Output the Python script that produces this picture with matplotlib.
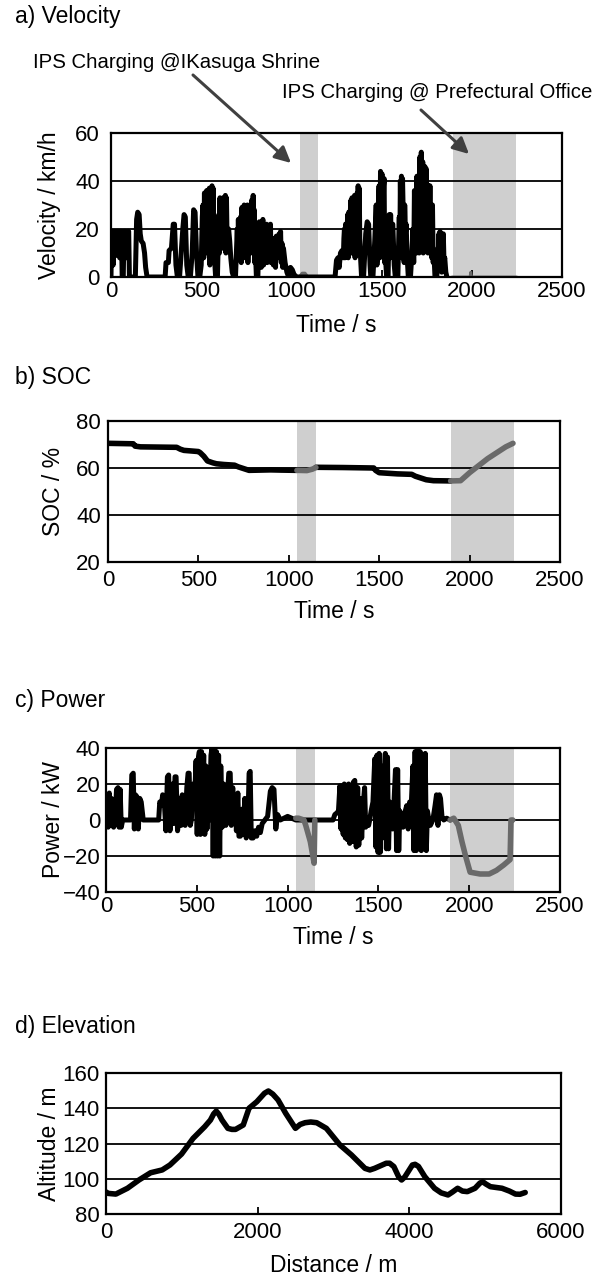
import matplotlib
matplotlib.use('Agg')
import matplotlib.pyplot as plt

plt.rcParams['font.family'] = ['Liberation Sans', 'DejaVu Sans']

# ---------------- data ----------------
# a) Velocity (driving, black)
vel_t = [0, 3, 8, 12, 16, 22, 26, 30, 34, 40, 48, 52, 58, 62, 68, 72, 80, 86, 92, 98, 102,
         135, 142, 148, 156, 162, 168, 178, 186, 192, 200,
         300, 305, 318, 322, 335, 345, 352, 360, 368, 380,
         398, 405, 412, 420, 428, 440, 450, 458, 466, 474, 482, 492,
         500, 506, 510, 514, 518, 521, 524, 527, 530, 534, 538, 541, 545, 548, 552, 556,
         560, 563, 566, 569, 572, 580, 590,
         598, 601, 604, 607, 610, 613, 616, 619, 622, 625, 628, 631, 634, 637, 640, 643,
         646, 652, 658, 664, 672, 680, 690,
         700, 703, 706, 709, 712, 715, 718, 722, 726, 729, 732, 735, 738, 741, 744, 747,
         750, 753, 756, 759, 762, 766, 770, 775, 780, 784, 788, 791, 794, 797, 800, 806, 814,
         822, 826, 830, 833, 836, 839, 842, 846, 850, 853, 856, 859, 862, 866, 870, 874,
         878, 881, 884, 887, 890, 895, 900, 904, 908, 912, 916, 920, 924, 928, 932, 936, 940,
         944, 948, 952, 956, 965, 975, 985, 995, 1005, 1015, 1030, 1045,
         1150, 1242, 1250, 1258, 1265, 1272, 1280, 1288, 1291, 1294, 1297, 1300, 1303, 1306,
         1309, 1312, 1315, 1318, 1321, 1324, 1327, 1330, 1333, 1336, 1339, 1342, 1346, 1350,
         1353, 1356, 1360, 1364, 1367, 1370, 1373, 1376, 1379, 1382, 1389, 1400,
         1412, 1420, 1428, 1436, 1440, 1452, 1462, 1466, 1470, 1474, 1478, 1482, 1486, 1490,
         1494, 1498, 1502, 1505, 1508, 1511, 1514, 1517, 1520, 1528, 1536, 1542, 1546, 1550,
         1553, 1556, 1559, 1562, 1570, 1576, 1590, 1598, 1601, 1604, 1607, 1610, 1613, 1616,
         1619, 1622, 1625, 1628, 1632, 1636, 1642, 1648, 1660, 1668, 1674, 1678, 1682, 1686,
         1690, 1693, 1696, 1700, 1704, 1708, 1712, 1716, 1720, 1724, 1728, 1731, 1734, 1737,
         1740, 1744, 1748, 1751, 1754, 1757, 1760, 1764, 1768, 1772, 1775, 1778, 1782, 1786,
         1790, 1796, 1806, 1812, 1815, 1818, 1821, 1824, 1827, 1830, 1833, 1836, 1839, 1842,
         1846, 1850, 1856, 1862]
vel_v = [0, 19, 19, 5, 19, 19, 9, 9, 19, 19, 8, 19, 19, 0, 0, 19, 19, 8, 19, 19, 0,
         0, 24, 27, 26, 18, 15, 14, 10, 4, 0,
         0, 6, 6, 11, 12, 22, 22, 5, 0, 0,
         20, 26, 25, 5, 0, 0, 10, 28, 27, 10, 0, 0,
         5, 25, 30, 8, 35, 12, 15, 30, 36, 10, 20, 35, 37, 5, 18, 34,
         38, 8, 37, 20, 10, 0, 0,
         26, 10, 33, 18, 14, 30, 32, 12, 33, 20, 15, 32, 34, 10, 33, 18,
         12, 20, 15, 8, 2, 0, 0,
         20, 8, 24, 12, 10, 22, 25, 6, 29, 14, 12, 28, 30, 10, 8, 22,
         25, 10, 30, 6, 18, 22, 22, 10, 32, 14, 34, 20, 28, 6, 12, 0, 0,
         23, 10, 20, 4, 6, 22, 24, 5, 22, 12, 8, 20, 22, 6, 20, 12,
         10, 20, 22, 6, 15, 8, 5, 16, 14, 4, 17, 10, 8, 16, 18, 8, 19,
         6, 14, 4, 12, 6, 2, 0, 4, 3, 1, 0, 0,
         0, 0, 7, 8, 4, 10, 11, 8, 16, 20, 8, 22, 14, 10,
         20, 26, 8, 27, 16, 12, 28, 32, 10, 33, 18, 14, 30, 34,
         8, 20, 30, 35, 12, 38, 20, 37, 16, 10, 0, 0,
         18, 23, 22, 5, 0, 0, 15, 22, 30, 5, 10, 30, 38, 8,
         44, 20, 43, 10, 20, 38, 41, 6, 10, 0, 0, 26, 8, 26,
         15, 15, 22, 22, 5, 0, 0, 25, 10, 40, 20, 42, 8, 41,
         30, 18, 6, 30, 18, 22, 8, 0, 0, 10, 20, 6, 36, 14,
         30, 10, 42, 18, 35, 10, 50, 20, 52, 30, 48, 10, 30, 20,
         46, 25, 45, 15, 32, 10, 38, 14, 38, 10, 25, 8, 30, 6,
         10, 0, 0, 12, 4, 18, 6, 19, 14, 8, 2, 17, 6, 18,
         6, 8, 2, 0]
# velocity during IPS charging (grey)
velc1_t = [1045, 1060, 1075, 1090, 1150]
velc1_v = [0, 1.5, 1.5, 0, 0]
velc2_t = [1895, 1990, 1994, 1998, 2245]
velc2_v = [0, 0, 2, 0, 0]

# b) SOC
soc1_t = [0, 140, 150, 180, 380, 400, 420, 500, 510, 530, 550, 580, 600, 640, 700, 720,
          760, 780, 900, 960, 1045]
soc1_v = [70.5, 70.3, 69.3, 69.0, 68.8, 68.0, 67.5, 67.0, 66.5, 65.0, 63.0, 62.2, 61.8,
          61.5, 61.2, 60.5, 59.5, 59.0, 59.2, 59.1, 59.0]
socc1_t = [1045, 1100, 1130, 1150]
socc1_v = [59.0, 58.9, 59.5, 60.2]
soc2_t = [1150, 1300, 1470, 1480, 1500, 1540, 1600, 1680, 1700, 1740, 1760, 1800, 1895]
soc2_v = [60.3, 60.2, 60.0, 59.0, 58.0, 57.8, 57.5, 57.3, 56.5, 55.5, 55.0, 54.6, 54.5]
socc2_t = [1895, 1950, 2000, 2100, 2200, 2240]
socc2_v = [54.5, 54.6, 58.0, 64.0, 69.0, 70.5]

# c) Power
pow_t = [0, 6, 12, 18, 24, 30, 36, 42, 50, 58, 66, 72, 78, 84, 92, 135, 142, 150, 156,
         162, 170, 178, 186, 194, 205, 290, 296, 305, 312, 320, 330, 338, 345, 352, 358,
         366, 372, 380, 386, 394, 400, 408, 414, 420, 428, 436, 445, 452, 458, 464, 470,
         480, 488, 496, 502, 508, 514, 520, 526, 532, 538, 544, 550, 556, 562, 570, 578,
         584, 590, 596, 602, 608, 614, 620, 626, 632, 640, 648, 654, 660, 668, 676, 684,
         690, 698, 704, 712, 718, 726, 732, 740, 748, 756, 764, 772, 780, 788, 794, 800,
         810, 820, 830, 840, 850, 860, 875, 890, 905, 915, 925, 935, 945, 960, 980, 1000,
         1045,
         1150, 1250, 1260, 1272, 1280, 1288, 1294, 1300, 1306, 1312, 1318, 1324, 1330, 1336,
         1342, 1348, 1356, 1362, 1370, 1378, 1386, 1392, 1400, 1408, 1416, 1424, 1430, 1438,
         1446, 1452, 1460, 1470, 1480, 1486, 1492, 1498, 1504, 1510, 1516, 1522, 1530, 1538,
         1544, 1550, 1556, 1562, 1570, 1578, 1586, 1594, 1600, 1606, 1612, 1618, 1626, 1636,
         1648, 1656, 1664, 1672, 1680, 1690, 1696, 1702, 1708, 1716, 1722, 1730, 1736, 1744,
         1750, 1758, 1764, 1770, 1778, 1786, 1800, 1812, 1820, 1828, 1836, 1842, 1850, 1860,
         1876, 1895]
pow_v = [5, 14, -4, 15, -3, 12, 0, -4, 0, 17, 18, -4, 17, -4, 0, 0, 25, 26, -5,
         14, 13, -5, 12, 10, 0, 0, 10, 8, 14, 12, -6, 24, 25, -6, 0,
         20, -2, 24, 24, -6, 0, 12, -3, 14, 0, -3, 18, 26, 26, -3, 0,
         20, 12, 33, -8, 34, 38, -8, 38, 10, 36, -8, 30, -5, 20, 0, 36,
         40, -20, 40, -20, 38, -20, 36, -20, 30, -4, 20, 18, -3, 12, 26, 26,
         -3, 18, -2, 12, -6, 15, -9, -9, 6, -8, 12, -10, -7, 26, 27, -10,
         -10, -6, -9, -4, -7, -2, 0, 2, 16, 18, 17, -5, 3, 0, 1, 2,
         0,
         0, 0, 3, 4, 5, 19, -5, 19, -8, 20, -10, 19, -11, 20,
         -13, 16, -12, 21, 22, -15, 18, -14, 12, -10, 8, 18, -4, 0,
         -3, 0, 5, 10, 34, -15, 36, -18, 37, -18, 30, -10, 20, 37,
         -16, 35, -16, 10, 0, -5, 10, 28, -17, 28, -17, 5, 0, -4,
         5, 8, -5, 10, 6, 30, -17, 38, -17, 39, -16, 38, -17, 36,
         -16, 37, -17, 5, 0, -3, 0, 8, 14, -3, 14, 12, 2, 0,
         1, 0]
# power during IPS charging (grey)
powc1_t = [1045, 1060, 1090, 1100, 1125, 1146, 1150]
powc1_v = [1, 1, 0, -3, -12, -24, 0]
powc2_t = [1895, 1915, 1940, 1960, 1980, 2005, 2060, 2110, 2150, 2190, 2225, 2230, 2240]
powc2_v = [0, 1, -3, -12, -20, -29, -30, -30, -28, -25, -22, 0, 0]

# d) Elevation
elev_d = [0, 26, 130, 283, 435, 588, 741, 843, 996, 1148, 1301, 1377, 1420, 1454, 1490,
          1530, 1607, 1660, 1708, 1810, 1850, 1886, 1989, 2090, 2141, 2200, 2269, 2370,
          2498, 2560, 2625, 2700, 2778, 2906, 3084, 3237, 3415, 3480, 3542, 3695, 3740,
          3796, 3860, 3898, 3940, 4040, 4076, 4120, 4204, 4332, 4420, 4510, 4570, 4637,
          4700, 4765, 4866, 4930, 4968, 5010, 5069, 5222, 5320, 5400, 5460, 5528]
elev_h = [92.5, 91.7, 91.3, 94.6, 99.3, 103.4, 105.0, 107.8, 114.0, 122.9, 129.5, 133.3,
          136.8, 138.4, 136.5, 133.3, 128.6, 128.0, 128.0, 130.5, 135.5, 140.0, 143.7,
          148.5, 149.8, 148.0, 144.7, 137.1, 128.6, 130.8, 131.8, 132.2, 131.8, 128.6,
          119.2, 113.5, 105.9, 105.0, 105.9, 108.8, 108.8, 106.9, 101.0, 99.3, 101.0,
          107.8, 108.2, 107.0, 101.2, 94.6, 92.0, 90.8, 92.5, 94.6, 93.0, 92.7, 94.6,
          97.5, 98.3, 97.0, 95.5, 94.6, 93.0, 91.3, 91.2, 92.2]

# charging windows (s)
band1 = (1045, 1150)
band2 = (1895, 2245)

time_ticks = [0, 500, 1000, 1500, 2000, 2500]
dist_ticks = [0, 2000, 4000, 6000]

# ---------------- figure ----------------
W, H = 606, 1276
fig = plt.figure(figsize=(W / 100, H / 100), dpi=100)

FS_TICK = 16
FS_LAB = 16.5
BAND = '#cfcfcf'
GREY = '#6a6a6a'


def make_axes(l, t, r, b):
    return fig.add_axes([l / W, 1 - b / H, (r - l) / W, (b - t) / H])


def style(ax, ylim, yticks, xlim, xticks, xlabel, ylabel, ypad, xpad, xlab_y, ylab_x,
          bands=True):
    ax.set_xlim(*xlim)
    ax.set_ylim(*ylim)
    ax.set_xticks(xticks)
    ax.set_yticks(yticks)
    ax.tick_params(axis='x', direction='in', length=5, width=1.3, labelsize=FS_TICK,
                   pad=xpad, top=False)
    ax.tick_params(axis='y', length=0, labelsize=FS_TICK, pad=ypad)
    for s in ax.spines.values():
        s.set_linewidth(1.6)
        s.set_color('black')
    ax.yaxis.grid(True, color='black', linewidth=1.3, zorder=0.6)
    ax.set_axisbelow(True)
    ax.set_xlabel(xlabel, fontsize=FS_LAB, va='center')
    ax.set_ylabel(ylabel, fontsize=FS_LAB, va='center', ha='center')
    ax.xaxis.set_label_coords(0.5, xlab_y)
    ax.yaxis.set_label_coords(ylab_x, 0.5)
    if bands:
        for b in (band1, band2):
            ax.axvspan(b[0], b[1], color=BAND, lw=0, zorder=0.2)


lw_main = 4.0
kw = dict(zorder=3, solid_joinstyle='round', solid_capstyle='round')

# a) Velocity
axa = make_axes(111, 133, 562, 277)
style(axa, (0, 60), [0, 20, 40, 60], (0, 2500), time_ticks, 'Time / s',
      'Velocity / km/h', 8, 3, (277 - 325) / 144, (50 - 111) / 451)
axa.plot(velc1_t, velc1_v, color=GREY, lw=2.5, zorder=2)
axa.plot(velc2_t, velc2_v, color=GREY, lw=2.0, zorder=2)
axa.plot(vel_t, vel_v, color='black', lw=3.6, **kw)

# b) SOC
axb = make_axes(108, 421, 560, 562)
style(axb, (20, 80), [20, 40, 60, 80], (0, 2500), time_ticks, 'Time / s',
      'SOC / %', 5, 6, (562 - 612) / 141, (53 - 108) / 452)
axb.plot(soc1_t, soc1_v, color='black', lw=lw_main, **kw)
axb.plot(soc2_t, soc2_v, color='black', lw=lw_main, **kw)
axb.plot(socc1_t, socc1_v, color=GREY, lw=lw_main, **kw)
axb.plot(socc2_t, socc2_v, color=GREY, lw=lw_main, **kw)

# c) Power
axc = make_axes(106, 748, 560, 892)
style(axc, (-40, 40), [-40, -20, 0, 20, 40], (0, 2500), time_ticks, 'Time / s',
      'Power / kW', 4, 3, (892 - 938) / 144, (53.5 - 106) / 454)
axc.plot(pow_t, pow_v, color='black', lw=3.6, **kw)
axc.plot(powc1_t, powc1_v, color=GREY, lw=lw_main, **kw)
axc.plot(powc2_t, powc2_v, color=GREY, lw=lw_main, **kw)

# d) Elevation
axd = make_axes(106, 1073, 561, 1214)
style(axd, (80, 160), [80, 100, 120, 140, 160], (0, 6000), dist_ticks, 'Distance / m',
      'Altitude / m', 4.5, 6, (1214 - 1265) / 141, (49.5 - 106) / 455, bands=False)
axd.plot(elev_d, elev_h, color='black', lw=lw_main, **kw)

# panel titles
for txt, y in [('a) Velocity', 17), ('b) SOC', 378), ('c) Power', 701), ('d) Elevation', 1027)]:
    fig.text(15 / W, 1 - y / H, txt, fontsize=FS_LAB, ha='left', va='center')

# annotations with arrows (overlay in pixel coordinates)
ov = fig.add_axes([0, 0, 1, 1], zorder=10)
ov.set_xlim(0, W)
ov.set_ylim(H, 0)
ov.axis('off')
ov.patch.set_alpha(0)
ov.text(33, 62, 'IPS Charging @IKasuga Shrine', fontsize=14.7, ha='left', va='center')
ov.text(282, 93, 'IPS Charging @ Prefectural Office', fontsize=14.7, ha='left', va='center')
arrow_kw = dict(arrowstyle='-|>', color='#404040', lw=2.2, mutation_scale=24,
                shrinkA=0, shrinkB=0)
ov.annotate('', xy=(291, 163), xytext=(193, 75), arrowprops=arrow_kw)
ov.annotate('', xy=(469, 154), xytext=(421, 110), arrowprops=arrow_kw)

fig.savefig('out.png', dpi=100)
